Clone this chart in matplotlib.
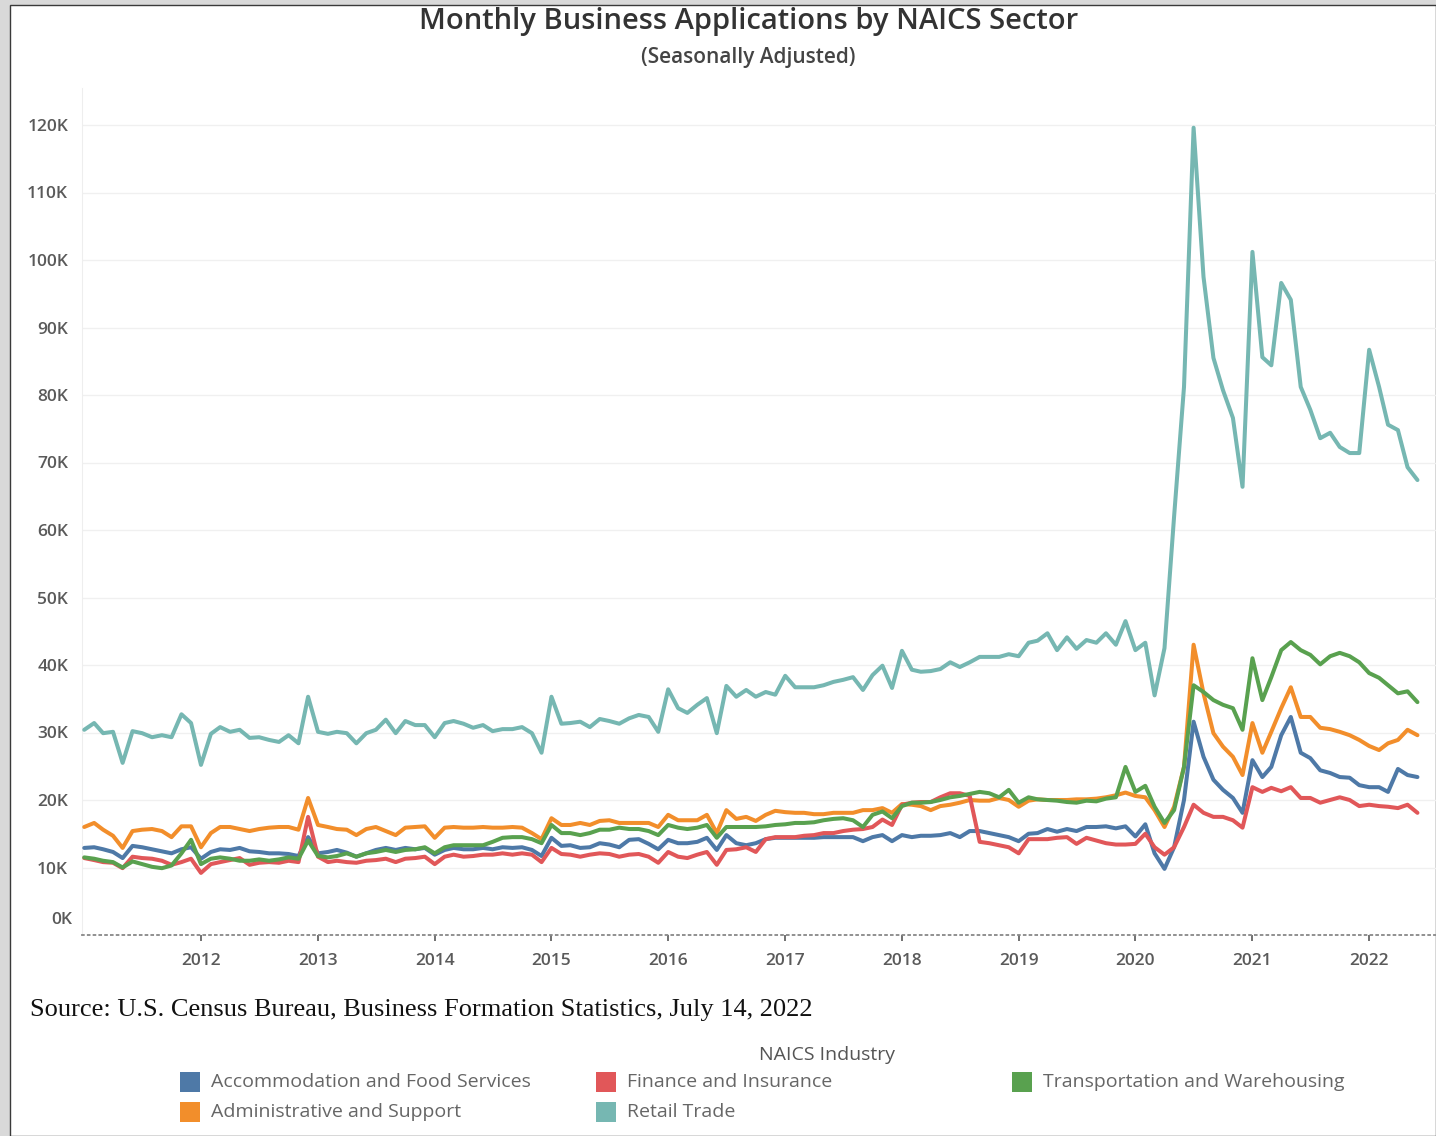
import matplotlib
matplotlib.use("Agg")
import matplotlib.pyplot as plt
from matplotlib.patches import Rectangle
import pandas as pd

# Monthly business applications (thousands), Jan 2011 - Jun 2022
months = pd.date_range("2011-01-01", periods=138, freq="MS")

accommodation_food = [
    12.9, 13.0, 12.7, 12.3, 11.4, 13.2, 13.0, 12.7, 12.4, 12.1, 12.7, 13.0,
    11.3, 12.3, 12.7, 12.6, 12.9, 12.4, 12.3, 12.1, 12.1, 12.0, 11.7, 14.5,
    12.1, 12.3, 12.6, 12.2, 11.6, 12.1, 12.6, 12.9, 12.6, 12.9, 12.7, 12.9,
    11.9, 12.6, 12.9, 12.7, 12.7, 12.9, 12.7, 13.0, 12.9, 13.0, 12.6, 11.7,
    14.4, 13.2, 13.3, 12.9, 13.0, 13.6, 13.4, 13.0, 14.1, 14.2, 13.5, 12.7,
    14.1, 13.6, 13.6, 13.8, 14.4, 12.6, 14.8, 13.6, 13.3, 13.6, 14.2, 14.4,
    14.4, 14.4, 14.4, 14.4, 14.5, 14.5, 14.5, 14.5, 13.9, 14.5, 14.8, 13.9,
    14.8, 14.5, 14.7, 14.7, 14.8, 15.1, 14.5, 15.4, 15.4, 15.1, 14.8, 14.5,
    13.9, 15.0, 15.1, 15.7, 15.3, 15.7, 15.4, 16.0, 16.0, 16.1, 15.8, 16.1,
    14.6, 16.4, 12.1, 9.8, 13.0, 20.0, 31.6, 26.4, 23.0, 21.5, 20.3, 18.1,
    25.9, 23.4, 24.9, 29.6, 32.3, 27.0, 26.2, 24.4, 24.0, 23.4, 23.3, 22.2,
    21.9, 21.9, 21.2, 24.6, 23.7, 23.4,
]

administrative_support = [
    16.0, 16.6, 15.6, 14.7, 12.9, 15.4, 15.6, 15.7, 15.4, 14.5, 16.1, 16.1,
    13.0, 15.1, 16.0, 16.0, 15.7, 15.4, 15.7, 15.9, 16.0, 16.0, 15.6, 20.3,
    16.3, 16.0, 15.7, 15.6, 14.8, 15.7, 16.0, 15.4, 14.8, 15.9, 16.0, 16.1,
    14.4, 15.9, 16.0, 15.9, 15.9, 16.0, 15.9, 15.9, 16.0, 15.9, 15.1, 14.2,
    17.3, 16.3, 16.3, 16.6, 16.3, 16.9, 17.0, 16.6, 16.6, 16.6, 16.6, 16.0,
    17.8, 17.0, 17.0, 17.0, 17.8, 15.1, 18.5, 17.2, 17.5, 16.9, 17.8, 18.4,
    18.2, 18.1, 18.1, 17.9, 17.9, 18.1, 18.1, 18.1, 18.5, 18.5, 18.8, 18.1,
    19.4, 19.3, 19.1, 18.5, 19.1, 19.3, 19.6, 20.0, 19.9, 19.9, 20.3, 20.0,
    19.0, 19.9, 20.1, 20.0, 20.0, 20.0, 20.1, 20.1, 20.2, 20.4, 20.7, 21.1,
    20.6, 20.4, 18.5, 16.0, 19.0, 24.9, 43.0, 35.8, 29.9, 27.9, 26.4, 23.7,
    31.4, 27.0, 30.1, 33.6, 36.7, 32.3, 32.3, 30.7, 30.5, 30.1, 29.6, 28.9,
    28.0, 27.4, 28.4, 28.9, 30.4, 29.6,
]

finance_insurance = [
    11.4, 11.1, 10.8, 10.7, 9.9, 11.6, 11.4, 11.3, 11.0, 10.4, 10.8, 11.3,
    9.2, 10.5, 10.8, 11.1, 11.4, 10.4, 10.7, 10.8, 10.7, 11.0, 10.8, 17.5,
    11.6, 10.8, 11.0, 10.8, 10.7, 11.0, 11.1, 11.3, 10.8, 11.3, 11.4, 11.6,
    10.5, 11.6, 11.9, 11.6, 11.7, 11.9, 11.9, 12.1, 11.9, 12.1, 11.9, 10.8,
    12.9, 12.0, 11.9, 11.6, 11.9, 12.1, 12.0, 11.6, 11.9, 12.0, 11.6, 10.7,
    12.3, 11.6, 11.4, 11.9, 12.3, 10.4, 12.6, 12.7, 13.0, 12.3, 14.2, 14.5,
    14.5, 14.5, 14.7, 14.8, 15.1, 15.1, 15.4, 15.6, 15.7, 16.0, 17.1, 16.3,
    19.3, 19.6, 19.7, 19.7, 20.4, 21.0, 21.0, 20.6, 13.8, 13.6, 13.3, 13.0,
    12.1, 14.2, 14.2, 14.2, 14.4, 14.5, 13.5, 14.4, 14.0, 13.6, 13.4, 13.4,
    13.5, 15.0, 13.0, 11.9, 13.0, 16.0, 19.3, 18.1, 17.5, 17.5, 17.0, 15.9,
    21.9, 21.2, 21.8, 21.3, 21.9, 20.3, 20.3, 19.6, 20.0, 20.4, 20.0, 19.1,
    19.3, 19.1, 19.0, 18.8, 19.3, 18.1,
]

retail_trade = [
    30.4, 31.4, 29.9, 30.1, 25.5, 30.2, 29.9, 29.3, 29.6, 29.3, 32.7, 31.4,
    25.2, 29.8, 30.8, 30.1, 30.4, 29.2, 29.3, 28.9, 28.6, 29.6, 28.4, 35.3,
    30.1, 29.8, 30.1, 29.9, 28.4, 29.9, 30.4, 31.9, 29.9, 31.7, 31.1, 31.1,
    29.3, 31.4, 31.7, 31.3, 30.7, 31.1, 30.2, 30.5, 30.5, 30.8, 29.9, 27.0,
    35.3, 31.3, 31.4, 31.6, 30.8, 32.0, 31.7, 31.3, 32.1, 32.6, 32.3, 30.1,
    36.4, 33.6, 32.9, 34.1, 35.1, 29.9, 36.9, 35.3, 36.3, 35.3, 36.0, 35.6,
    38.4, 36.7, 36.7, 36.7, 37.0, 37.5, 37.8, 38.2, 36.3, 38.5, 39.9, 36.6,
    42.1, 39.3, 39.0, 39.1, 39.4, 40.4, 39.7, 40.4, 41.2, 41.2, 41.2, 41.6,
    41.3, 43.3, 43.6, 44.7, 42.2, 44.1, 42.4, 43.7, 43.3, 44.7, 43.0, 46.5,
    42.2, 43.3, 35.5, 42.5, 62.0, 81.2, 119.6, 97.5, 85.5, 80.7, 76.6, 66.4,
    101.2, 85.6, 84.4, 96.6, 94.1, 81.2, 77.8, 73.6, 74.4, 72.3, 71.4, 71.4,
    86.7, 81.2, 75.6, 74.8, 69.3, 67.4,
]

transportation_warehousing = [
    11.5, 11.3, 11.0, 10.8, 10.0, 10.9, 10.5, 10.1, 9.9, 10.3, 12.1, 14.1,
    10.5, 11.3, 11.5, 11.3, 11.0, 11.0, 11.2, 11.0, 11.2, 11.5, 11.3, 14.0,
    11.7, 11.5, 11.7, 12.1, 11.6, 12.1, 12.3, 12.6, 12.3, 12.6, 12.7, 13.0,
    12.1, 13.0, 13.3, 13.3, 13.3, 13.3, 13.8, 14.4, 14.5, 14.5, 14.2, 13.6,
    16.3, 15.1, 15.1, 14.8, 15.1, 15.6, 15.6, 15.9, 15.7, 15.7, 15.4, 14.8,
    16.3, 15.9, 15.7, 15.9, 16.3, 14.4, 16.0, 16.0, 16.0, 16.0, 16.1, 16.3,
    16.4, 16.6, 16.6, 16.7, 17.0, 17.2, 17.3, 17.0, 16.0, 17.8, 18.3, 17.3,
    19.1, 19.6, 19.6, 19.7, 20.0, 20.4, 20.6, 20.9, 21.2, 21.0, 20.4, 21.5,
    19.6, 20.4, 20.1, 20.0, 19.9, 19.7, 19.6, 19.9, 19.8, 20.2, 20.4, 24.9,
    21.2, 22.1, 19.0, 16.6, 18.5, 24.9, 37.0, 36.0, 34.8, 34.1, 33.6, 30.4,
    41.0, 34.8, 38.2, 42.2, 43.4, 42.2, 41.5, 40.1, 41.3, 41.8, 41.3, 40.4,
    38.8, 38.1, 37.0, 35.8, 36.1, 34.5,
]

series_names = [
    "Accommodation and Food Services",
    "Administrative and Support",
    "Finance and Insurance",
    "Retail Trade",
    "Transportation and Warehousing",
]
series_values = [
    accommodation_food,
    administrative_support,
    finance_insurance,
    retail_trade,
    transportation_warehousing,
]
series_colors = ["#4e79a7", "#f28e2b", "#e15759", "#76b7b2", "#59a14f"]

y_ticks = list(range(10, 130, 10))
year_ticks = list(range(2012, 2023))

W, H = 1436, 1136
fig = plt.figure(figsize=(W / 100, H / 100), dpi=100, facecolor="#d9d9d9")


def fx(px):
    return px / W


def fy(py):
    return 1 - py / H


# white report panel with a thin dark frame, kept behind the axes
fig.patches.append(Rectangle((fx(10), 0), 1 - fx(10), fy(5), transform=fig.transFigure,
                             facecolor="white", edgecolor="#3a3a3a", linewidth=1.0, zorder=-5))

ax = fig.add_axes([fx(82), fy(935), 1 - fx(82), fy(88) - fy(935)])
ax.set_facecolor("none")
ax.set_zorder(1)

for name, vals, col in zip(series_names, series_values, series_colors):
    ax.plot(months, vals, color=col, linewidth=2.9, solid_joinstyle="round",
            solid_capstyle="round", label=name, zorder=3)

ax.set_ylim(0, (935 - 88) / 6.75)
ax.set_xlim(pd.Timestamp("2010-12-25"), pd.Timestamp("2022-07-29"))

tick_font = dict(family="Open Sans", weight="semibold", size=12.5)

ax.set_yticks(y_ticks)
ax.set_yticklabels([f"{v}K" for v in y_ticks])
ax.grid(axis="y", color="#f0f0f0", linewidth=1.0, zorder=0)
ax.tick_params(axis="y", length=0, pad=10, labelcolor="#5a5a5a")
for lbl in ax.get_yticklabels():
    lbl.set_fontproperties(tick_font)

# zero label sits slightly above the dotted baseline
ax.annotate("0K", xy=(0, 0), xycoords=("axes fraction", "data"),
            xytext=(-10, 15), textcoords="offset pixels", ha="right", va="center",
            color="#5a5a5a", fontproperties=tick_font)

ax.set_xticks([pd.Timestamp(f"{y}-01-01") for y in year_ticks])
ax.set_xticklabels([str(y) for y in year_ticks])
ax.tick_params(axis="x", length=4, width=1.3, color="#666666", pad=9,
               labelcolor="#5a5a5a")
for lbl in ax.get_xticklabels():
    lbl.set_fontproperties(tick_font)

for s in ["top", "right"]:
    ax.spines[s].set_visible(False)
ax.spines["left"].set_color("#eeeeee")
ax.spines["bottom"].set_color("#888888")
ax.spines["bottom"].set_linestyle((0, (1, 2.2)))
ax.spines["bottom"].set_linewidth(1.3)

# titles
fig.text(fx(749), fy(22), "Monthly Business Applications by NAICS Sector",
         ha="center", va="center", fontsize=21, color="#333333",
         family="Open Sans", fontweight="semibold")
fig.text(fx(748), fy(57), "(Seasonally Adjusted)", ha="center", va="center",
         fontsize=15, color="#444444", family="Open Sans", fontweight="semibold")

# source note
fig.text(fx(30), fy(1010), "Source: U.S. Census Bureau, Business Formation Statistics, July 14, 2022",
         ha="left", va="center", fontsize=19, color="#111111", family="Liberation Serif")

# legend
fig.text(fx(827), fy(1055), "NAICS Industry", ha="center", va="center",
         fontsize=14, color="#555555", family="Open Sans")
legend_slots = [(180, 1082), (180, 1112), (596, 1082), (596, 1112), (1012, 1082)]
for (lx, ly), name, col in zip(legend_slots, series_names, series_colors):
    fig.patches.append(Rectangle((fx(lx), fy(ly + 10)), fx(20), fy(ly - 10) - fy(ly + 10),
                                 transform=fig.transFigure, facecolor=col,
                                 edgecolor="none", zorder=2))
    fig.text(fx(lx + 31), fy(ly), name, ha="left", va="center", fontsize=14,
             color="#666666", family="Open Sans")

fig.savefig("out.png", dpi=100, facecolor=fig.get_facecolor())
